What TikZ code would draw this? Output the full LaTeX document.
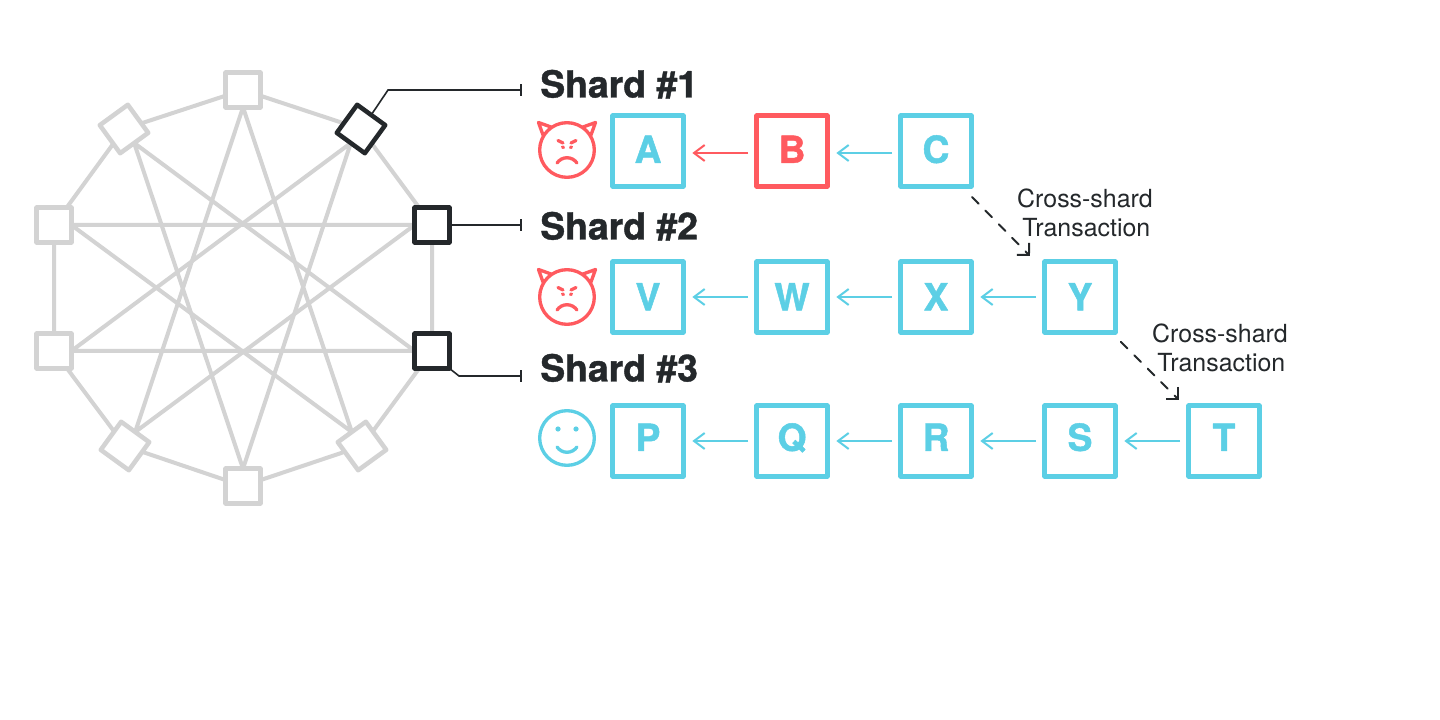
\documentclass[tikz,border=0pt]{standalone}
\usepackage{fontspec}
\usetikzlibrary{arrows.meta,calc}
\setmainfont{TeX Gyre Heros}
\newfontfamily\headfont{TeX Gyre Heros Bold}[FakeBold=1.0]
\newfontfamily\letterfont{TeX Gyre Heros Bold}[FakeBold=1.2]
\definecolor{cy}{HTML}{5CCFE5}
\definecolor{rd}{HTML}{FF5A5F}
\definecolor{dk}{HTML}{24282B}
\definecolor{gr}{HTML}{D3D3D3}
\pgfdeclarelayer{bg}
\pgfsetlayers{bg,main}
\tikzset{
  x=0.75pt,y=-0.75pt,
  netnode/.style={draw=gr,fill=white,line width=3.4pt,minimum size=26pt,inner sep=0pt,outer sep=0pt,line join=round},
  hot/.style={draw=dk},
  netline/.style={draw=gr,line width=3pt},
  leader/.style={draw=dk,line width=1.2pt,-{Bar[width=9pt,length=1.2pt]}},
  blockbox/.style={draw=cy,text=cy,fill=white,line width=3.4pt,minimum size=53pt,inner sep=0pt,outer sep=0pt,line join=round,text height=20pt,text depth=0pt,font=\letterfont\fontsize{28}{28}\selectfont\pgfsetroundjoin},
  rowa/.style={text depth=2.2pt},
  rowc/.style={text depth=5.2pt},
  evil/.style={draw=rd,text=rd},
  link/.style={draw=cy,line width=1.5pt,-{Straight Barb[length=8pt,width=12pt,line width=1.5pt]}},
  evillink/.style={link,draw=rd},
  cross/.style={draw=dk,line width=1.5pt,line cap=round,dash pattern=on 7pt off 7.3pt,-{Straight Barb[length=6.4pt,width=12.8pt,line width=1.5pt]}},
  heading/.style={anchor=base west,inner sep=0pt,text=dk,font=\headfont\fontsize{28}{28}\selectfont\pgfsetroundjoin},
  crosslabel/.style={inner sep=0pt,text=dk,align=center,font=\fontsize{18.7}{21.75}\selectfont},
  face/.style={line width=2.5pt,line cap=round,line join=round},
  gapl/.style={shorten <=6.4pt,shorten >=6.75pt},
}
\begin{document}
\begin{tikzpicture}
\useasboundingbox (0,0) rectangle (1440,720);
\begin{pgfonlayer}{bg}
\fill[white] (0,0) rectangle (1440,720);
\end{pgfonlayer}
% network nodes
\node[netnode] (n0) at (243,90) {};
\node[netnode,hot,rotate=-36] (n1) at (361,129) {};
\node[netnode,hot] (n2) at (432,225) {};
\node[netnode,hot] (n3) at (432,351) {};
\node[netnode,rotate=36] (n4) at (362,446) {};
\node[netnode] (n5) at (243,486) {};
\node[netnode,rotate=-36] (n6) at (125,446) {};
\node[netnode] (n7) at (54,351) {};
\node[netnode] (n8) at (54,225) {};
\node[netnode,rotate=36] (n9) at (124,129) {};
\begin{pgfonlayer}{bg}
\draw[netline] (n0.center)--(n1.center)--(n2.center)--(n3.center)--(n4.center)--(n5.center)--(n6.center)--(n7.center)--(n8.center)--(n9.center)--cycle;
\draw[netline,line join=round] (n0.south)--(n4.north)--(n8.east)--(n2.west)--(n6.north)--cycle;
\draw[netline,line join=round] (n1.south)--(n5.north)--(n9.south)--(n3.west)--(n7.east)--cycle;
\end{pgfonlayer}
% headings
\node[heading] (s1) at (540,97.5) {Shard \#1};
\node[heading] (s2) at (540,239.5) {Shard \#2};
\node[heading] (s3) at (540,381.5) {Shard \#3};
\coordinate (e1) at (522,90);
\coordinate (e2) at (522,225);
\coordinate (e3) at (522,376);
\coordinate (k1) at (388,90);
\coordinate (k3) at (459,376);
\draw[leader] (n1.north) -- (k1) -- (e1);
\draw[leader] (n2.east) -- (e2);
\draw[leader] (n3.south east) -- (k3) -- (e3);
% blocks
\node[blockbox,rowa] (A) at (648,151) {A};
\node[blockbox,rowa,evil] (B) at (792,151) {B};
\node[blockbox,rowa] (C) at (936,151) {C};
\node[blockbox] (V) at (648,297) {V};
\node[blockbox] (W) at (792,297) {W};
\node[blockbox] (X) at (936,297) {X};
\node[blockbox] (Y) at (1080,297) {Y};
\node[blockbox,rowc] (P) at (648,441) {P};
\node[blockbox,rowc] (Q) at (792,441) {Q};
\node[blockbox,rowc] (R) at (936,441) {R};
\node[blockbox,rowc] (S) at (1080,441) {S};
\node[blockbox,rowc] (T) at (1224,441) {T};
\draw[evillink,gapl] ([yshift=-1.5pt]B.west) -- ([yshift=-1.5pt]A.east);
\draw[link,gapl] ([yshift=-1.5pt]C.west) -- ([yshift=-1.5pt]B.east);
\foreach \a/\b in {W/V,X/W,Y/X,Q/P,R/Q,S/R,T/S}{\draw[link,gapl] (\a.west) -- (\b.east);}
\draw[cross] ($(C.south east)+(0.7,10.7)$) -- ($(Y.north west)+(-14.7,-5.7)$);
\draw[cross] ($(Y.south east)+(5.4,9.4)$) -- ($(T.north west)+(-9.7,-5.7)$);
\node[crosslabel] (l1) at (1085,213) {Cross-shard\\\hspace*{2pt}Transaction};
\node[crosslabel] (l2) at (1220,348) {Cross-shard\\\hspace*{2pt}Transaction};
% faces
\foreach \cy/\nm in {150/f1,297/f2}{
  \begin{scope}[shift={(567,\cy)},draw=rd,face]
    \node[circle,draw=rd,line width=2.5pt,minimum size=41pt,inner sep=0pt] (\nm) at (0,0) {};
    \draw (-24,-15) -- (-28.5,-27.5) -- (-16,-23);
    \draw (24,-15) -- (28.5,-27.5) -- (16,-23);
    \draw (-9,-9.5) -- (-4,-7);
    \draw (9,-9.5) -- (4,-7);
    \draw (-4.5,-3) -- (-3.5,-2.5);
    \draw (4.5,-3) -- (3.5,-2.5);
    \draw (-10,13) .. controls (-5,6) and (5,6) .. (10,13);
  \end{scope}
}
\begin{scope}[shift={(567,438)},face,draw=cy]
  \node[circle,draw=cy,line width=2.5pt,minimum size=41pt,inner sep=0pt] (f3) at (0,0) {};
  \fill[cy] (-9,-9) circle (2.6);
  \fill[cy] (9,-9) circle (2.6);
  \draw (-10,9) .. controls (-5,16) and (5,16) .. (10,9);
\end{scope}
\end{tikzpicture}
\end{document}
